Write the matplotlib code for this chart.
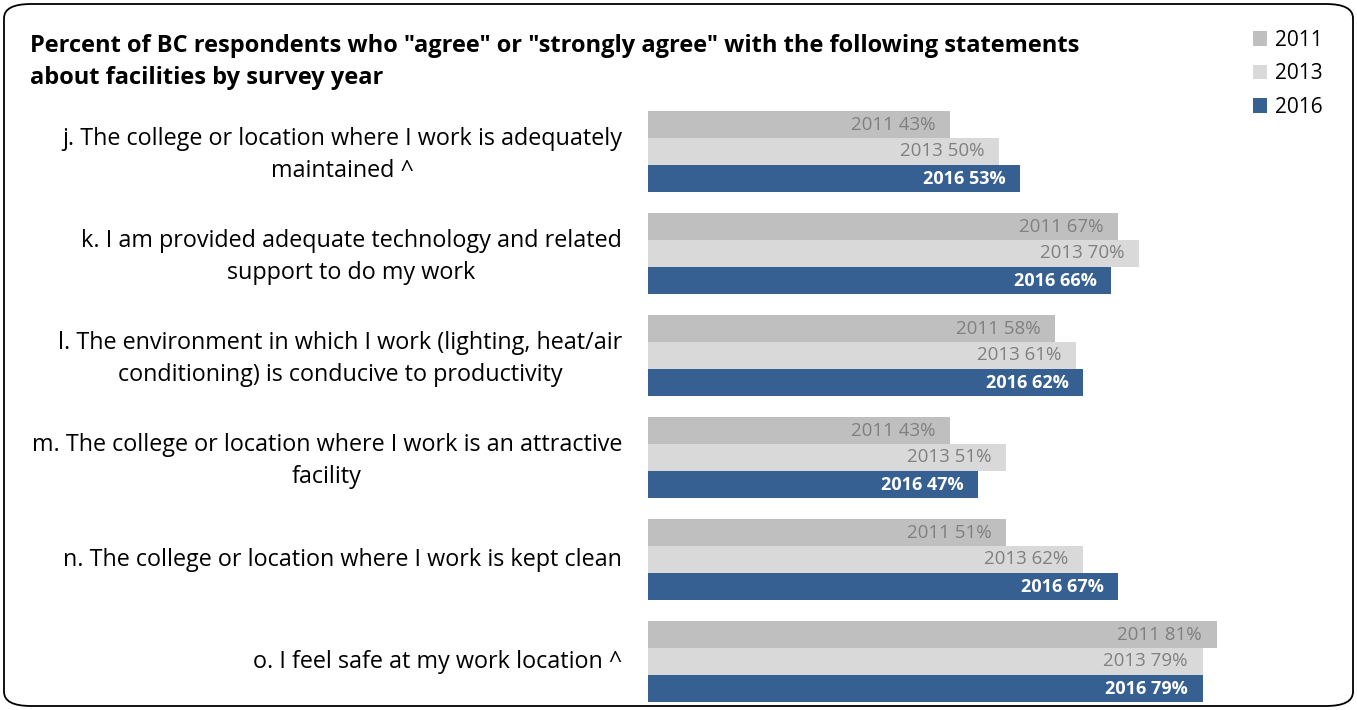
import numpy as np
import matplotlib.pyplot as plt
from matplotlib.patches import FancyBboxPatch, Patch

plt.rcParams['font.family'] = ['Open Sans', 'DejaVu Sans']

statements = [
    "j. The college or location where I work is adequately\nmaintained ^",
    "k. I am provided adequate technology and related\nsupport to do my work",
    "l. The environment in which I work (lighting, heat/air\nconditioning) is conducive to productivity",
    "m. The college or location where I work is an attractive\nfacility",
    "n. The college or location where I work is kept clean",
    "o. I feel safe at my work location ^",
]
years = ["2011", "2013", "2016"]
pct_2011 = [43, 67, 58, 43, 51, 81]
pct_2013 = [50, 70, 61, 51, 62, 79]
pct_2016 = [53, 66, 62, 47, 67, 79]

colors = ["#BFBFBF", "#D9D9D9", "#366092"]
text_colors = ["#808080", "#808080", "white"]
weights = ["normal", "normal", "bold"]
label_sizes = [13.5, 13.5, 13]

W, H = 1357, 710
fig = plt.figure(figsize=(W / 100, H / 100), dpi=100)

# rounded frame around the whole chart
frame = FancyBboxPatch((4 / W, 4 / H), 1 - 8 / W, 1 - 8 / H,
                       boxstyle="round,pad=0,rounding_size=0.02",
                       transform=fig.transFigure, fill=False,
                       edgecolor="black", linewidth=1.3)
fig.patches.append(frame)

# axes spans full height; x axis from bar base at 648px, 100% = 702px
ax = fig.add_axes([648 / W, 0, 702 / W, 1])
ax.set_xlim(0, 100)
spacing = 102.0
top_center = 151.5
ax.set_ylim((H - top_center) / spacing, -top_center / spacing)
ax.axis("off")

bar_h = 27 / spacing
y = np.arange(len(statements))
series = [pct_2011, pct_2013, pct_2016]
for k, vals in enumerate(series):
    yy = y + (k - 1) * bar_h
    ax.barh(yy, vals, height=bar_h, color=colors[k], edgecolor="none")
    for yi, v in zip(yy, vals):
        ax.text(v - 2.1, yi, f"{years[k]} {v}%", ha="right", va="center",
                fontsize=label_sizes[k], color=text_colors[k], fontweight=weights[k])

for yi, s in zip(y, statements):
    # two-line labels sit a touch lower in the original
    off = 0.035 if "\n" in s else 0.0
    ax.text(-3.7, yi + off, s, ha="right", va="center", multialignment="center",
            fontsize=16.8, color="black", linespacing=1.42)

fig.text(30 / W, 1 - 62 / H,
         'Percent of BC respondents who "agree" or "strongly agree" with the following statements\nabout facilities by survey year',
         ha="left", va="center", fontsize=17, fontweight="bold", linespacing=1.45)

handles = [Patch(facecolor=c, edgecolor="none") for c in colors]
fig.legend(handles, years, loc="upper left", bbox_to_anchor=(1234 / W, 1 - 11 / H),
           frameon=False, fontsize=15, handlelength=0.7, handleheight=0.7,
           handletextpad=0.35, labelspacing=0.6)

fig.savefig("out.png", dpi=100)
